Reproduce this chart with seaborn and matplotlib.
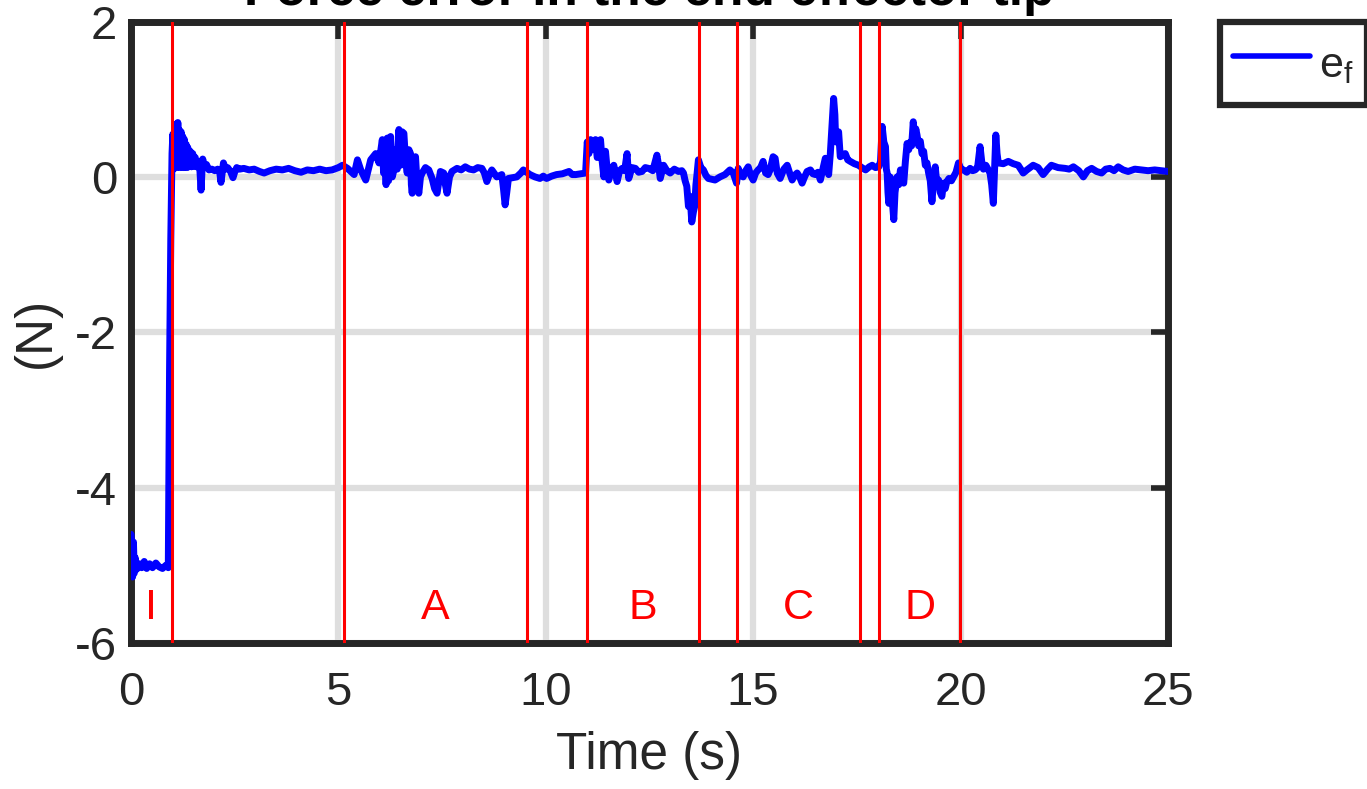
import matplotlib
matplotlib.use("Agg")
import matplotlib.pyplot as plt
import seaborn as sns
import pandas as pd

# Force error signal at the end-effector tip (time in s, error in N)
time_s = [
    0.00, 0.02, 0.04, 0.06, 0.08, 0.10, 0.14, 0.20, 0.26, 0.32, 0.38, 0.45, 0.52, 0.60, 0.68, 0.76, 0.84, 0.90,
    0.93, 0.96, 0.99,
    1.01, 1.03, 1.05, 1.07, 1.09, 1.11, 1.13, 1.15, 1.17, 1.19, 1.21, 1.23, 1.25, 1.27, 1.29, 1.31, 1.33, 1.35,
    1.37, 1.40, 1.43, 1.46, 1.49, 1.52, 1.55, 1.58, 1.62, 1.66, 1.69, 1.71, 1.73, 1.77, 1.82, 1.88, 1.95, 2.02,
    2.09, 2.14, 2.17, 2.20, 2.23, 2.28, 2.33, 2.40, 2.46, 2.50, 2.55, 2.62, 2.72, 2.85, 2.97, 3.10, 3.21, 3.35,
    3.50, 3.65, 3.80, 3.95, 4.10, 4.25, 4.40, 4.55, 4.70, 4.85, 5.00, 5.10,
    5.22, 5.38, 5.46, 5.54, 5.66, 5.78, 5.90, 5.98, 6.06, 6.09, 6.12, 6.15, 6.18, 6.21, 6.24, 6.26, 6.30, 6.34,
    6.38, 6.42, 6.46, 6.50, 6.54, 6.58, 6.62, 6.66, 6.70, 6.74, 6.76, 6.78, 6.82, 6.86, 6.90, 6.94, 6.98, 7.02,
    7.10, 7.18, 7.26, 7.32, 7.38, 7.46, 7.54, 7.58, 7.62, 7.68, 7.74, 7.86, 7.96, 8.06, 8.16, 8.26, 8.36, 8.46,
    8.52, 8.58, 8.64, 8.70, 8.82, 8.94, 8.98, 9.02, 9.06, 9.10, 9.20, 9.30, 9.40, 9.46, 9.54, 9.62, 9.74, 9.86,
    9.94, 10.02, 10.14, 10.26, 10.40, 10.56, 10.64, 10.72, 10.84, 10.96,
    11.00, 11.04, 11.08, 11.12, 11.16, 11.20, 11.24, 11.28, 11.32, 11.36, 11.40, 11.44, 11.48, 11.52, 11.58,
    11.64, 11.68, 11.72, 11.78, 11.84, 11.90, 11.96, 12.00, 12.08, 12.16, 12.24, 12.32, 12.40, 12.48, 12.58,
    12.68, 12.72, 12.76, 12.84, 12.92, 13.00, 13.10, 13.20, 13.28, 13.32, 13.36, 13.40, 13.44, 13.48, 13.52,
    13.56, 13.59, 13.62, 13.64, 13.68, 13.74, 13.80, 13.86, 13.92, 14.00, 14.08, 14.20, 14.32, 14.44, 14.52,
    14.60, 14.64, 14.70, 14.76, 14.82, 14.88, 14.94, 15.00, 15.06, 15.12, 15.18, 15.24, 15.30, 15.36, 15.41,
    15.48, 15.53, 15.58, 15.65, 15.74, 15.82, 15.88, 15.94, 16.00, 16.06, 16.12, 16.18, 16.24, 16.30, 16.38,
    16.44, 16.50, 16.56, 16.62, 16.68, 16.74, 16.78, 16.82, 16.86, 16.90, 16.94, 16.97, 16.99, 17.02, 17.06,
    17.10, 17.16, 17.22, 17.28, 17.34, 17.44, 17.54, 17.62, 17.71, 17.80, 17.87, 17.95, 18.03, 18.07, 18.11,
    18.15, 18.19, 18.21, 18.23, 18.25, 18.27, 18.30, 18.33, 18.36, 18.39, 18.42, 18.47, 18.51, 18.55, 18.59,
    18.63, 18.67, 18.71, 18.75, 18.79, 18.82, 18.86, 18.89, 18.92, 18.95, 18.99, 19.03, 19.07, 19.11, 19.15,
    19.19, 19.23, 19.27, 19.31, 19.35, 19.39, 19.43, 19.47, 19.51, 19.55, 19.59, 19.63, 19.67, 19.72, 19.78,
    19.83, 19.89, 19.95, 20.01, 20.07, 20.15, 20.23, 20.29, 20.35, 20.41, 20.45, 20.47, 20.51, 20.55, 20.61,
    20.67, 20.71, 20.75, 20.79, 20.82, 20.85, 20.88, 20.91, 21.03, 21.15, 21.27, 21.39, 21.45, 21.51, 21.60,
    21.75, 21.87, 21.99, 22.10, 22.19, 22.35, 22.52, 22.62, 22.72, 22.85, 22.96, 23.06, 23.16, 23.28, 23.40,
    23.50, 23.60, 23.70, 23.80, 23.92, 24.04, 24.20, 24.36, 24.52, 24.68, 24.84, 25.00,
]
force_error = [
    -4.60, -4.75, -5.15, -4.70, -5.10, -4.90, -5.05, -4.98, -5.03, -4.95, -5.04, -4.98, -5.03, -4.97, -5.02, -5.04, -5.00, -5.03,
    -2.50, -0.80, 0.30,
    0.55, 0.10, 0.62, 0.15, 0.68, 0.12, 0.70, 0.15, 0.60, 0.12, 0.58, 0.14, 0.52, 0.12, 0.48, 0.13, 0.42, 0.12,
    0.38, 0.13, 0.33, 0.13, 0.30, 0.14, 0.25, 0.13, 0.20, 0.10, -0.17, 0.05, 0.23, 0.12, 0.16, 0.09, 0.10, 0.08,
    0.10, 0.06, -0.07, 0.05, 0.18, 0.10, 0.12, 0.07, -0.01, 0.06, 0.12, 0.10, 0.11, 0.09, 0.10, 0.07, 0.05, 0.08,
    0.10, 0.09, 0.11, 0.08, 0.06, 0.09, 0.08, 0.10, 0.08, 0.09, 0.12, 0.15,
    0.11, 0.03, 0.22, 0.09, -0.04, 0.22, 0.30, 0.18, 0.48, 0.05, 0.45, -0.10, 0.50, -0.05, 0.40, 0.52, 0.00, 0.09,
    0.35, 0.10, 0.61, 0.15, 0.58, 0.56, 0.20, 0.05, 0.35, 0.30, -0.10, -0.21, 0.15, 0.26, -0.10, -0.21, 0.00, 0.05,
    0.12, 0.09, -0.02, -0.15, -0.21, 0.07, 0.05, -0.10, -0.21, 0.00, 0.07, 0.11, 0.09, 0.13, 0.10, 0.09, 0.12, 0.11,
    0.05, -0.06, 0.03, 0.09, 0.00, 0.03, -0.15, -0.36, -0.20, -0.02, -0.01, 0.00, 0.05, 0.09, 0.06, 0.03, 0.00, -0.02,
    0.01, -0.02, 0.01, 0.03, 0.04, 0.07, 0.03, 0.03, 0.04, 0.05,
    0.45, 0.30, 0.48, 0.35, 0.46, 0.48, 0.25, 0.30, 0.48, 0.20, 0.00, 0.33, 0.10, -0.04, 0.10,
    0.15, 0.05, -0.06, 0.08, 0.11, 0.08, 0.30, -0.02, 0.12, 0.11, 0.06, 0.07, 0.12, 0.11, 0.08,
    0.28, 0.15, -0.02, 0.15, 0.08, 0.05, 0.10, 0.07, 0.08, 0.05, -0.05, -0.12, -0.38, -0.25, -0.58,
    -0.45, -0.38, -0.10, 0.00, 0.22, 0.12, 0.09, 0.02, -0.02, -0.03, -0.04, 0.00, 0.03, 0.09, 0.05,
    -0.08, 0.11, 0.02, 0.00, 0.08, 0.13, 0.02, -0.04, 0.05, 0.09, 0.12, 0.20, 0.05, 0.03, 0.09,
    0.26, 0.24, 0.05, -0.02, 0.10, 0.15, 0.05, -0.04, 0.02, 0.05, 0.00, -0.08, 0.00, 0.07, 0.09,
    0.04, 0.03, 0.06, -0.04, 0.10, 0.24, 0.12, 0.03, 0.30, 0.65, 1.01, 0.80, 0.45, 0.55, 0.58,
    0.26, 0.28, 0.30, 0.22, 0.20, 0.17, 0.15, 0.12, 0.09, 0.13, 0.15, 0.12, 0.13, 0.20, 0.65,
    0.45, 0.39, 0.10, 0.05, -0.20, -0.34, 0.00, -0.05, -0.35, -0.55, -0.20, 0.00, -0.10, 0.09, -0.05,
    -0.08, 0.20, 0.43, 0.35, 0.45, 0.40, 0.71, 0.45, 0.62, 0.54, 0.40, 0.46, 0.30, 0.33, 0.15,
    0.18, 0.05, -0.05, -0.32, -0.05, 0.13, -0.10, -0.04, -0.20, -0.25, -0.08, -0.15, -0.06, -0.02, -0.05,
    0.00, 0.06, 0.18, 0.10, 0.09, 0.06, 0.11, 0.08, 0.09, 0.12, 0.30, 0.39, 0.20, 0.10, 0.15,
    0.09, 0.05, -0.10, -0.34, 0.10, 0.54, 0.30, 0.18, 0.17, 0.20, 0.17, 0.15, 0.10, 0.05, 0.09,
    0.15, 0.12, 0.03, 0.10, 0.15, 0.12, 0.11, 0.10, 0.13, 0.08, 0.00, 0.08, 0.11, 0.07, 0.05,
    0.10, 0.11, 0.08, 0.13, 0.09, 0.07, 0.10, 0.09, 0.08, 0.09, 0.08, 0.07,
]

# Task phases: label, start and end time (s)
phase_names = ["I", "A", "B", "C", "D"]
phase_start = [0.00, 5.13, 11.00, 14.62, 18.04]
phase_end = [0.99, 9.54, 13.70, 17.58, 19.99]
phase_label_level = -5.55

x_ticks = [0, 5, 10, 15, 20, 25]
y_ticks = [-6, -4, -2, 0, 2]

sns.set_theme(style="whitegrid")
plt.rcParams["font.family"] = ["Liberation Sans", "DejaVu Sans"]
plt.rcParams["mathtext.default"] = "regular"

ink = "#262626"
fig = plt.figure(figsize=(13.67, 7.89), dpi=100)
ax = fig.add_axes([0.0958, 0.1850, 0.7586, 0.7877])

df = pd.DataFrame({"t": time_s, "e": force_error})
sns.lineplot(data=df, x="t", y="e", ax=ax, color="#0000ff", linewidth=5.0,
             estimator=None, sort=False, label=r"$\mathregular{e_f}$", zorder=3)
for ln in ax.get_lines():
    ln.set_solid_joinstyle("round")
    ln.set_solid_capstyle("round")

# phase boundaries and labels
edges = sorted(set(phase_start[1:] + phase_end))
for x in edges:
    ax.axvline(x, color="#ff0000", linewidth=2.2, zorder=4)
for name, s, e in zip(phase_names, phase_start, phase_end):
    ax.text((s + e) / 2, phase_label_level, name, color="#ff0000", fontsize=31,
            ha="center", va="center", zorder=5)

ax.set_xlim(0, 25)
ax.set_ylim(-6, 2)
ax.set_xticks(x_ticks)
ax.set_yticks(y_ticks)
ax.set_xticklabels([str(v) for v in x_ticks])
ax.set_yticklabels([str(v) for v in y_ticks])

ax.grid(True, color="#dedede", linewidth=4.5)
ax.set_axisbelow(True)
for sp in ax.spines.values():
    sp.set_visible(True)
    sp.set_color(ink)
    sp.set_linewidth(5)
ax.tick_params(axis="both", which="major", direction="in", length=12, width=4,
               top=True, right=True, colors=ink, labelsize=34, labelcolor=ink)
ax.tick_params(axis="x", pad=20)
ax.tick_params(axis="y", pad=10)

ax.set_xlabel("Time (s)", fontsize=37, color=ink, labelpad=12)
ax.set_ylabel("(N)", fontsize=37, color=ink, labelpad=10)
ax.set_title("Force error in the end effector tip", fontsize=37, fontweight="bold",
             color="black", pad=12)

leg = ax.legend(loc="upper left", bbox_to_anchor=(1220 / 1367, 1 - 22 / 789),
                bbox_transform=fig.transFigure, borderaxespad=0, fontsize=31,
                handlelength=1.8, handleheight=1.65, handletextpad=0.2, borderpad=0.3,
                frameon=True, fancybox=False, framealpha=1.0)
leg.get_frame().set_edgecolor(ink)
leg.get_frame().set_linewidth(4.5)
for h in leg.get_lines():
    h.set_linewidth(4)

fig.savefig("out.png", dpi=100)
